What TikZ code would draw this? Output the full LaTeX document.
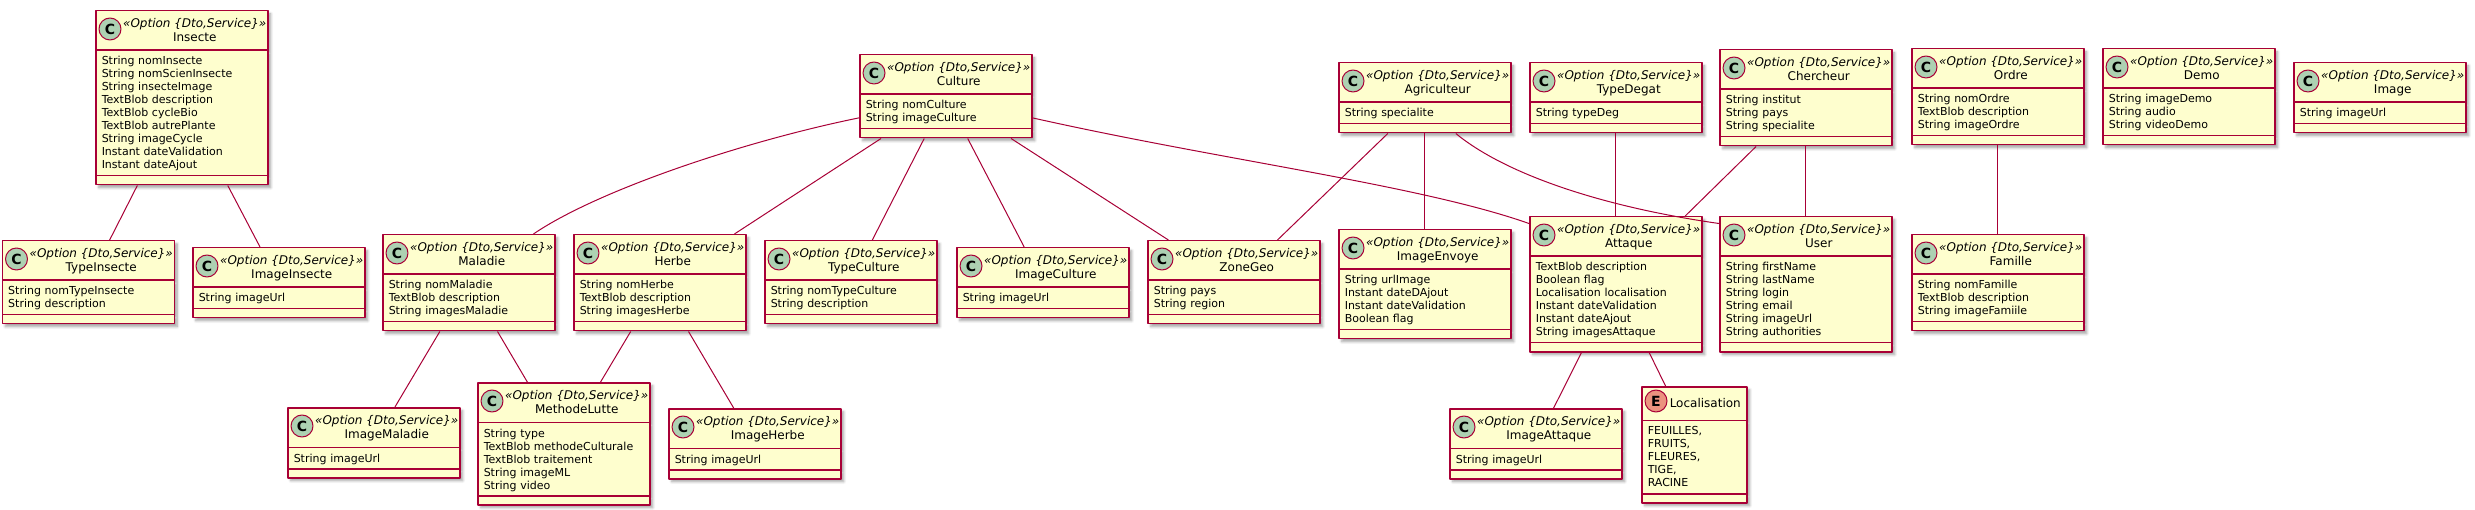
\documentclass[tikz,border=0pt]{standalone}
\usepackage{fontspec}
\setmainfont{DejaVu Sans}
\usetikzlibrary{shapes.multipart, shadows.blur}

\definecolor{umlred}{HTML}{A80036}
\definecolor{umlfill}{HTML}{FEFECE}
\definecolor{umlgreen}{HTML}{ADD1B2}
\definecolor{umlorange}{HTML}{EB937F}

% class header: stereotype over class name
\newcommand{\classhead}[1]{\fontsize{12}{14}\selectfont\rule{0pt}{16pt}\hspace*{93pt}\makebox[0pt]{\itshape «Option \{Dto,Service\}»}\\
    \rule[-8pt]{0pt}{8pt}\hspace*{93pt}\makebox[0pt]{#1}\par}
% attribute block
\newcommand{\attrs}[1]{\fontsize{11}{13}\selectfont\rule{0pt}{14pt}#1\rule[-6pt]{0pt}{6pt}\par}

\begin{document}
\begin{tikzpicture}[
            x = 1pt, y = -1pt, % pixel coordinates, y downwards
            line join = round
        ]

        \tikzstyle{umlclass}=[
            rectangle split,
            rectangle split parts = 3,
            draw = umlred,
            line width = 1.5pt,
            fill = umlfill,
            blur shadow = {shadow xshift=3pt, shadow yshift=-3pt, shadow blur steps=6, shadow blur radius=2.5pt, shadow opacity=35},
            text width = 160pt,
            align = left,
            inner xsep = 6pt,
            inner ysep = 0pt,
            anchor = north west,
            font = \fontsize{11}{13}\selectfont
        ]
        \tikzstyle{badge}=[
            circle,
            draw = umlred,
            line width = 1pt,
            fill = umlgreen,
            minimum size = 22pt,
            inner sep = 0pt,
            font = \fontsize{14}{14}\selectfont\bfseries
        ]
        \tikzstyle{link}=[draw = umlred, line width = 1pt]

        \useasboundingbox (0,0) rectangle (2475,510);

        % top row
        \node[umlclass] (insecte) at (95,10) {\classhead{Insecte}
            \nodepart{two}\attrs{String nomInsecte\\String nomScienInsecte\\String insecteImage\\TextBlob description\\TextBlob cycleBio\\TextBlob autrePlante\\String imageCycle\\Instant dateValidation\\Instant dateAjout}
            \nodepart{three}\rule{0pt}{7.5pt}};
        \node[umlclass] (culture) at (859,54) {\classhead{Culture}
            \nodepart{two}\attrs{String nomCulture\\String imageCulture}
            \nodepart{three}\rule{0pt}{7.5pt}};
        \node[umlclass] (agriculteur) at (1338,62) {\classhead{Agriculteur}
            \nodepart{two}\attrs{String specialite}
            \nodepart{three}\rule{0pt}{7.5pt}};
        \node[umlclass] (typedegat) at (1529,62) {\classhead{TypeDegat}
            \nodepart{two}\attrs{String typeDeg}
            \nodepart{three}\rule{0pt}{7.5pt}};
        \node[umlclass] (chercheur) at (1719,49) {\classhead{Chercheur}
            \nodepart{two}\attrs{String institut\\String pays\\String specialite}
            \nodepart{three}\rule{0pt}{7.5pt}};
        \node[umlclass] (ordre) at (1911,48) {\classhead{Ordre}
            \nodepart{two}\attrs{String nomOrdre\\TextBlob description\\String imageOrdre}
            \nodepart{three}\rule{0pt}{7.5pt}};
        \node[umlclass] (demo) at (2102,48) {\classhead{Demo}
            \nodepart{two}\attrs{String imageDemo\\String audio\\String videoDemo}
            \nodepart{three}\rule{0pt}{7.5pt}};
        \node[umlclass] (image) at (2293,62) {\classhead{Image}
            \nodepart{two}\attrs{String imageUrl}
            \nodepart{three}\rule{0pt}{7.5pt}};

        % middle row
        \node[umlclass] (typeinsecte) at (1.5,240) {\classhead{TypeInsecte}
            \nodepart{two}\attrs{String nomTypeInsecte\\String description}
            \nodepart{three}\rule{0pt}{7.5pt}};
        \node[umlclass] (imageinsecte) at (192,247) {\classhead{ImageInsecte}
            \nodepart{two}\attrs{String imageUrl}
            \nodepart{three}\rule{0pt}{7.5pt}};
        \node[umlclass] (maladie) at (382,234) {\classhead{Maladie}
            \nodepart{two}\attrs{String nomMaladie\\TextBlob description\\String imagesMaladie}
            \nodepart{three}\rule{0pt}{7.5pt}};
        \node[umlclass] (herbe) at (573,234) {\classhead{Herbe}
            \nodepart{two}\attrs{String nomHerbe\\TextBlob description\\String imagesHerbe}
            \nodepart{three}\rule{0pt}{7.5pt}};
        \node[umlclass] (typeculture) at (764,240) {\classhead{TypeCulture}
            \nodepart{two}\attrs{String nomTypeCulture\\String description}
            \nodepart{three}\rule{0pt}{7.5pt}};
        \node[umlclass] (imageculture) at (956,247) {\classhead{ImageCulture}
            \nodepart{two}\attrs{String imageUrl}
            \nodepart{three}\rule{0pt}{7.5pt}};
        \node[umlclass] (zonegeo) at (1147,240) {\classhead{ZoneGeo}
            \nodepart{two}\attrs{String pays\\String region}
            \nodepart{three}\rule{0pt}{7.5pt}};
        \node[umlclass] (imageenvoye) at (1338,229) {\classhead{ImageEnvoye}
            \nodepart{two}\attrs{String urlImage\\Instant dateDAjout\\Instant dateValidation\\Boolean flag}
            \nodepart{three}\rule{0pt}{7.5pt}};
        \node[umlclass] (attaque) at (1529,216) {\classhead{Attaque}
            \nodepart{two}\attrs{TextBlob description\\Boolean flag\\Localisation localisation\\Instant dateValidation\\Instant dateAjout\\String imagesAttaque}
            \nodepart{three}\rule{0pt}{7.5pt}};
        \node[umlclass] (user) at (1719,216) {\classhead{User}
            \nodepart{two}\attrs{String firstName\\String lastName\\String login\\String email\\String imageUrl\\String authorities}
            \nodepart{three}\rule{0pt}{7.5pt}};
        \node[umlclass] (famille) at (1911,234) {\classhead{Famille}
            \nodepart{two}\attrs{String nomFamille\\TextBlob description\\String imageFamiile}
            \nodepart{three}\rule{0pt}{7.5pt}};

        % bottom row
        \node[umlclass] (imagemaladie) at (287,407) {\classhead{ImageMaladie}
            \nodepart{two}\attrs{String imageUrl}
            \nodepart{three}\rule{0pt}{7.5pt}};
        \node[umlclass] (methodelutte) at (477,382) {\classhead{MethodeLutte}
            \nodepart{two}\attrs{String type\\TextBlob methodeCulturale\\TextBlob traitement\\String imageML\\String video}
            \nodepart{three}\rule{0pt}{7.5pt}};
        \node[umlclass] (imageherbe) at (668,408) {\classhead{ImageHerbe}
            \nodepart{two}\attrs{String imageUrl}
            \nodepart{three}\rule{0pt}{7.5pt}};
        \node[umlclass] (imageattaque) at (1449,408) {\classhead{ImageAttaque}
            \nodepart{two}\attrs{String imageUrl}
            \nodepart{three}\rule{0pt}{7.5pt}};
        \node[umlclass, text width=93pt] (localisation) at (1641,386) {\fontsize{12}{14}\selectfont\rule{0pt}{19.5pt}\hspace*{57.5pt}\makebox[0pt]{Localisation}\rule[-12.5pt]{0pt}{12.5pt}\par
            \nodepart{two}\fontsize{11}{13}\selectfont\rule{0pt}{13pt}FEUILLES,\\FRUITS,\\FLEURES,\\TIGE,\\RACINE\rule[-7pt]{0pt}{7pt}\par
            \nodepart{three}\rule{0pt}{7.5pt}};

        % class badges
        \foreach \c in {insecte, culture, agriculteur, typedegat, chercheur, ordre, demo, image,
                typeinsecte, imageinsecte, maladie, herbe, typeculture, imageculture, zonegeo,
                imageenvoye, attaque, user, famille, imagemaladie, methodelutte, imageherbe, imageattaque}
            \node[badge] (\c C) at ([shift={(15,19)}]\c.north west) {C};
        \node[badge, fill=umlorange] (localisationE) at ([shift={(15,15)}]localisation.north west) {E};

        % associations
        \path[link] (insecte) edge (typeinsecte);
        \path[link] (insecte) edge (imageinsecte);
        \draw[link] (culture.194) .. controls (745,141) and (598,190) .. (maladie.37);
        \path[link] (culture) edge (herbe);
        \path[link] (culture) edge (typeculture);
        \path[link] (culture) edge (imageculture);
        \path[link] (culture) edge (zonegeo);
        \draw[link] (culture.-14) .. controls (1220,160) and (1420,185) .. (attaque.145);
        \path[link] (maladie) edge (imagemaladie);
        \path[link] (maladie) edge (methodelutte);
        \path[link] (herbe) edge (methodelutte);
        \path[link] (herbe) edge (imageherbe);
        \path[link] (agriculteur) edge (zonegeo);
        \path[link] (agriculteur) edge (imageenvoye);
        \draw[link] (agriculteur.-49) .. controls (1500,170) and (1590,205) .. (user.145);
        \path[link] (typedegat) edge (attaque);
        \path[link] (chercheur) edge (attaque);
        \path[link] (chercheur) edge (user);
        \path[link] (ordre) edge (famille);
        \path[link] (attaque) edge (imageattaque);
        \path[link] (attaque) edge (localisation);

    \end{tikzpicture}
\end{document}
